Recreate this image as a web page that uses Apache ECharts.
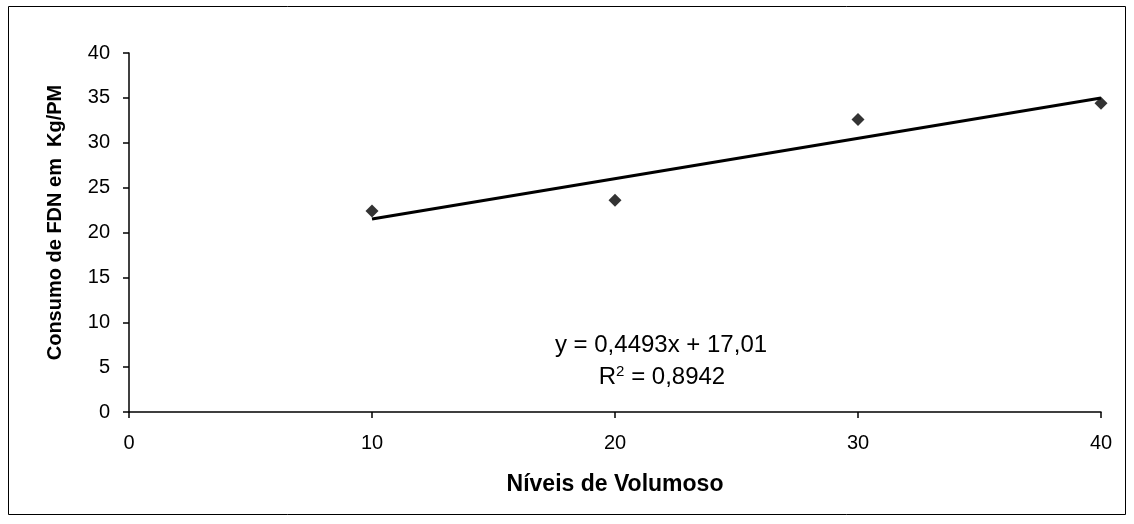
<!DOCTYPE html>
<html><head><meta charset="utf-8">
<script src="https://cdn.jsdelivr.net/npm/echarts@6/dist/echarts.min.js"></script>
<style>html,body{margin:0;padding:0;background:#fff}#c{width:1134px;height:524px}</style>
</head><body><div id="c"></div>
<script>
const levels = [10, 20, 30, 40];
const consumption = [22.4, 23.6, 32.6, 34.4];
const trendSlope = 0.4493;
const trendIntercept = 17.01;
const trendRange = [10, 40];
const xTicks = [0, 10, 20, 30, 40];
const yTicks = [0, 5, 10, 15, 20, 25, 30, 35, 40];
const eqLine1 = 'y = 0,4493x + 17,01';
const xTitle = 'Níveis de Volumoso';
const yTitle = 'Consumo de FDN em  Kg/PM';

const font = '"Liberation Sans", Arial, sans-serif';
const chart = echarts.init(document.getElementById('c'), null, {renderer: 'canvas'});
const points = levels.map((x, i) => [x, consumption[i]]);
const trend = trendRange.map(x => [x, trendSlope * x + trendIntercept]);
const axisCommon = {
  axisLine: {show: true, onZero: false, lineStyle: {color: '#000', width: 1.5}},
  axisTick: {show: true, inside: false, length: 6, lineStyle: {color: '#000', width: 1.5}},
  splitLine: {show: false},
  axisLabel: {color: '#000', fontFamily: font, fontSize: 20},
  nameTextStyle: {color: '#000', fontFamily: font, fontSize: 20, fontWeight: 'bold'}
};
chart.setOption({
  animation: false,
  backgroundColor: '#fff',
  grid: {left: 129, right: 33, top: 53, bottom: 112, containLabel: false},
  xAxis: Object.assign({}, axisCommon, {
    type: 'value', min: xTicks[0], max: xTicks[xTicks.length - 1], interval: 10,
    name: xTitle, nameLocation: 'middle', nameGap: 61,
    nameTextStyle: Object.assign({}, axisCommon.nameTextStyle, {fontSize: 23}),
    axisLabel: Object.assign({}, axisCommon.axisLabel, {margin: 21})
  }),
  yAxis: Object.assign({}, axisCommon, {
    type: 'value', min: yTicks[0], max: yTicks[yTicks.length - 1], interval: 5,
    name: yTitle, nameLocation: 'middle', nameGap: 64,
    nameTextStyle: Object.assign({}, axisCommon.nameTextStyle, {padding: [0, 0, 0, 20]}),
    axisLabel: Object.assign({}, axisCommon.axisLabel, {margin: 19})
  }),
  graphic: [
    {type: 'rect', shape: {x: 8.5, y: 6.5, width: 1117, height: 508},
     style: {fill: 'none', stroke: '#000', lineWidth: 1}, z: -1},
    {type: 'text', x: 661, y: 345,
     style: {text: eqLine1, font: '24px ' + font, fill: '#000', align: 'center', verticalAlign: 'middle'}},
    {type: 'text', x: 662, y: 377,
     style: {text: '{a|R}{s|2}{a| = 0,8942}', align: 'center', verticalAlign: 'middle',
       rich: {a: {fontFamily: font, fontSize: 24, color: '#000', verticalAlign: 'bottom'},
              s: {fontFamily: font, fontSize: 15, color: '#000', verticalAlign: 'top', padding: [0, 0, 10, 0]}}}}
  ],
  series: [
    {type: 'line', data: trend, showSymbol: false, symbol: 'none',
     lineStyle: {color: '#000', width: 3}, z: 2},
    {type: 'scatter', data: points, symbol: 'diamond', symbolSize: [13, 13],
     itemStyle: {color: '#000'}, z: 3}
  ]
});
</script></body></html>
